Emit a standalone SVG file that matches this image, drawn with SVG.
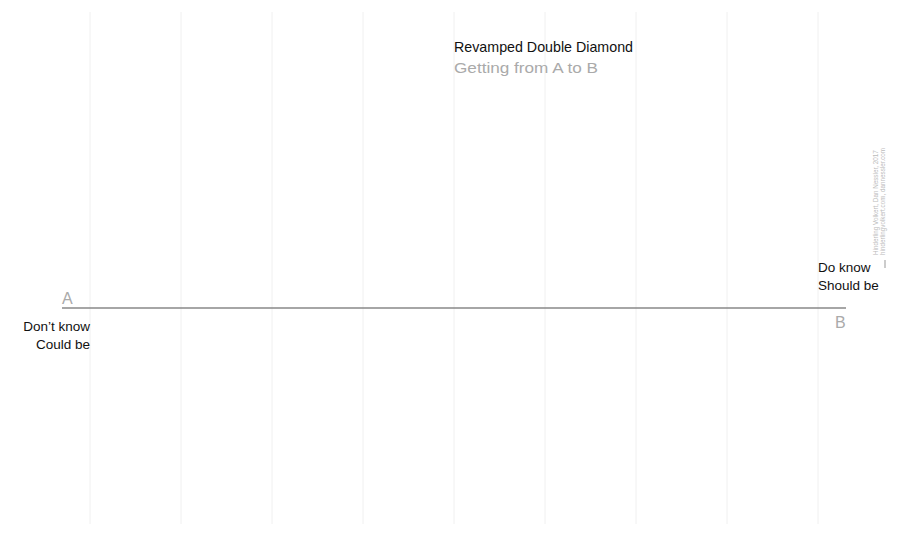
<svg xmlns="http://www.w3.org/2000/svg" width="914" height="537" viewBox="0 0 914 537">
<style>
.grid line{stroke:#f0f0f0;stroke-width:1}
.t{font-family:"Liberation Sans",Arial,sans-serif}
.lbl{font-size:13.5px;fill:#111}
.ab{font-size:16px;fill:#aaa}
.credit{font-size:6.3px;fill:#bbb}
</style>
<rect width="914" height="537" fill="#fff"/>
<g class="grid">
<line x1="90" y1="12" x2="90" y2="524"/>
<line x1="181" y1="12" x2="181" y2="524"/>
<line x1="272" y1="12" x2="272" y2="524"/>
<line x1="363" y1="12" x2="363" y2="524"/>
<line x1="454" y1="12" x2="454" y2="524"/>
<line x1="545" y1="12" x2="545" y2="524"/>
<line x1="636" y1="12" x2="636" y2="524"/>
<line x1="727" y1="12" x2="727" y2="524"/>
<line x1="818" y1="12" x2="818" y2="524"/>
</g>
<g id="title">
<text class="t" x="454" y="52" font-size="15" fill="#111" textLength="179" lengthAdjust="spacingAndGlyphs">Revamped Double Diamond</text>
<text class="t" x="454" y="73" font-size="15.5" fill="#aaa" textLength="144" lengthAdjust="spacingAndGlyphs">Getting from A to B</text>
</g>
<g id="connectors">
<line x1="62" y1="308" x2="846" y2="308" stroke="#888" stroke-width="1.3"/>
</g>
<g id="nodeA">
<text class="t ab" x="62" y="304">A</text>
<text class="t lbl" x="90" y="331" text-anchor="end">Don’t know</text>
<text class="t lbl" x="90" y="349" text-anchor="end">Could be</text>
</g>
<g id="nodeB">
<text class="t ab" x="835" y="328">B</text>
<text class="t lbl" x="818" y="272">Do know</text>
<text class="t lbl" x="818" y="290">Should be</text>
</g>
<g id="credit">
<text class="t credit" transform="translate(878,255) rotate(-90)">Hinderling Volkert, Dan Nessler, 2017</text>
<text class="t credit" transform="translate(885,255) rotate(-90)">hinderlingvolkert.com, dannessler.com</text>
<line x1="885" y1="260" x2="885" y2="268" stroke="#999" stroke-width="1"/>
</g>
</svg>
